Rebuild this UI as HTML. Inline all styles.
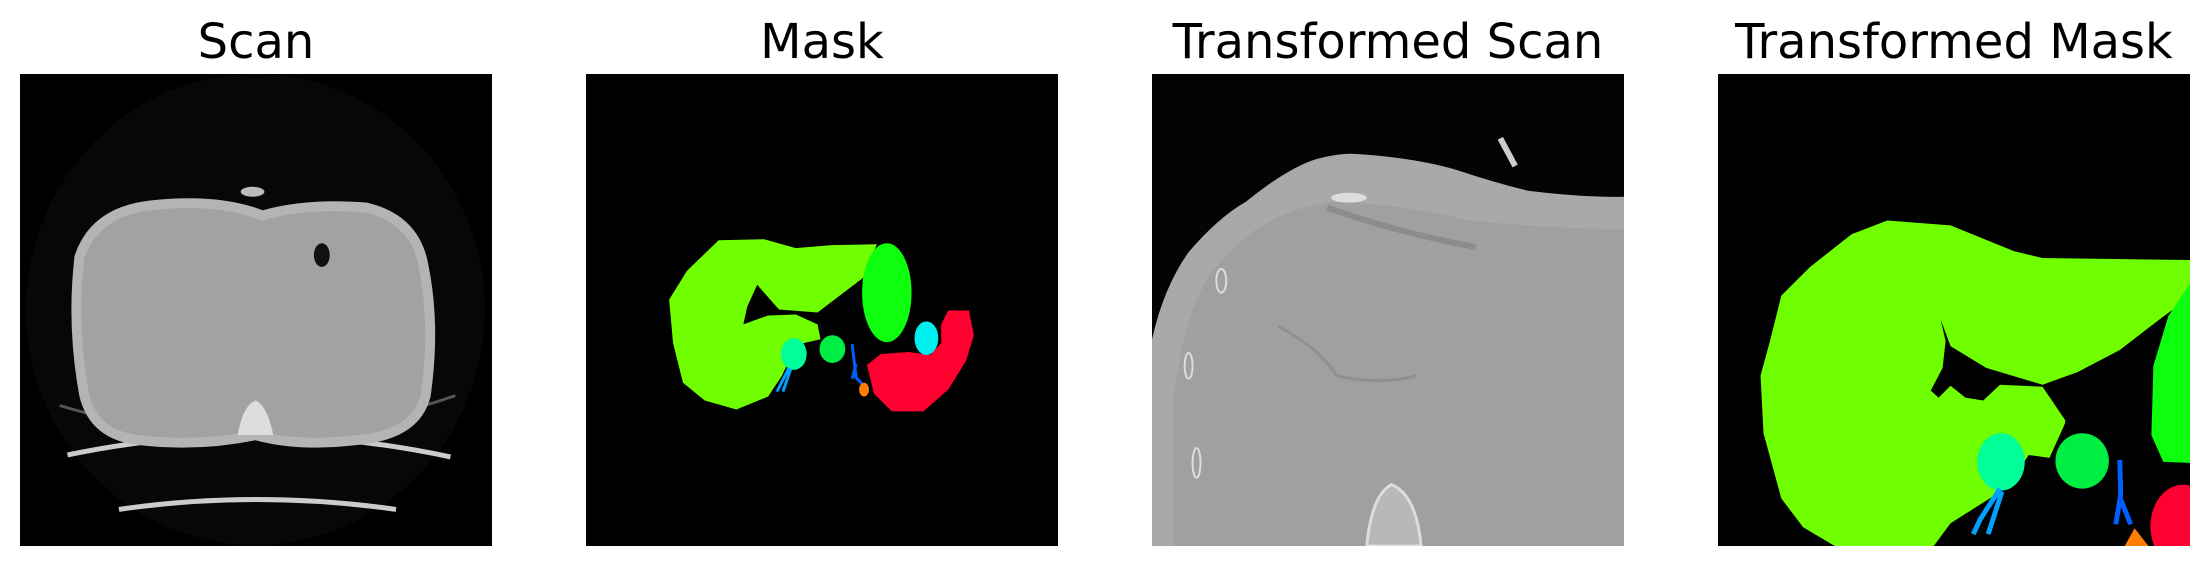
<!DOCTYPE html>
<html><head><meta charset="utf-8"><style>
html,body{margin:0;padding:0;background:#fff;width:2210px;height:566px;overflow:hidden}
svg{display:block}
text{font-family:"DejaVu Sans","Liberation Sans",sans-serif;font-size:48px;fill:#000}
</style></head><body>
<svg width="2210" height="566" viewBox="0 0 2210 566">
<defs>
<clipPath id="c1"><rect x="20" y="75" width="477" height="477"/></clipPath>
<clipPath id="c2"><rect x="593" y="75" width="477" height="477"/></clipPath>
<clipPath id="c3"><rect x="1153" y="75" width="477" height="477"/></clipPath>
<clipPath id="c4"><rect x="1725" y="75" width="477" height="477"/></clipPath>
</defs>
<!-- titles -->
<text x="256" y="58" text-anchor="middle">Scan</text>
<text x="822" y="58" text-anchor="middle">Mask</text>
<text x="1388" y="58" text-anchor="middle">Transformed Scan</text>
<text x="1954" y="58" text-anchor="middle">Transformed Mask</text>

<!-- Panel 1 scan -->
<g transform="translate(20 74) scale(0.98952) translate(-20 -75)">
<g clip-path="url(#c1)">
<rect x="20" y="75" width="477" height="477" fill="#000"/>
<ellipse cx="258" cy="313" rx="232" ry="238" fill="#070707"/>
<path d="M60 410 Q258 470 460 400" stroke="#555" stroke-width="3" fill="none"/>
<path d="M68 460 Q258 420 455 462" stroke="#ccc" stroke-width="5" fill="none"/>
<path d="M120 515 Q258 495 400 515" stroke="#ccc" stroke-width="5" fill="none"/>
<path d="M80 260 Q95 215 150 208 Q220 200 265 218 Q310 205 370 210 Q420 222 428 270 Q440 330 430 400 Q420 440 360 445 Q300 452 258 440 Q200 452 140 445 Q95 440 85 400 Q72 330 80 260 Z" fill="#a2a2a2" stroke="#b4b4b4" stroke-width="10"/>
<ellipse cx="325" cy="258" rx="8" ry="12" fill="#111"/>
<path d="M240 440 Q245 410 258 405 Q270 410 276 440 Z" fill="#ddd"/>
<ellipse cx="255" cy="194" rx="12" ry="5" fill="#bbb"/>
</g>
</g>

<!-- Panel 2 mask -->
<g transform="translate(586 74) scale(0.98952) translate(-593 -75)">
<g clip-path="url(#c2)">
<rect x="593" y="75" width="477" height="477" fill="#000"/>
<polygon fill="#70ff00" points="727,243 773,242 805,251 841,248 887,247 873,281 827,316 788,313 766,288 756,310 752,328 777,319 805,318 827,328 830,343 813,347 798,365 791,380 777,401 745,414 713,405 691,387 681,347 677,303 695,274"/>
<ellipse cx="897" cy="296" rx="25" ry="50" fill="#0dff0d"/>
<polygon fill="#ff0030" points="959,314 980,314 985,339 977,365 959,394 934,416 902,416 884,398 877,369 891,358 919,356 941,359 952,347 952,328"/>
<ellipse cx="937" cy="342" rx="12" ry="17" fill="#00f0f0"/>
<ellipse cx="803" cy="358" rx="13" ry="16" fill="#00ff99"/>
<ellipse cx="842" cy="353" rx="13" ry="14" fill="#00ee44"/>
<path d="M798 372 L786 396 M800 373 L792 396" stroke="#00a0ff" stroke-width="3" fill="none"/>
<path d="M862 348 L866 382 L872 388 M866 368 L862 383" stroke="#0060ff" stroke-width="3" fill="none"/>
<ellipse cx="874" cy="394" rx="5" ry="7" fill="#ff8000"/>
</g>
</g>

<!-- Panel 3 transformed scan -->
<g transform="translate(1152 74) scale(0.98952) translate(-1153 -75)">
<g clip-path="url(#c3)">
<rect x="1153" y="75" width="477" height="477" fill="#040404"/>
<path d="M1153 343 Q1165 290 1190 255 Q1220 220 1248 204 Q1290 170 1319 161 Q1345 154 1362 156 Q1420 160 1461 172 Q1500 185 1533 193 Q1590 200 1630 199 L1630 552 L1153 552 Z" fill="#a9a9a9"/>
<path d="M1175 400 Q1185 320 1210 280 Q1240 240 1275 222 Q1320 200 1360 205 Q1420 210 1470 222 Q1530 230 1630 232 L1630 552 L1175 552 Z" fill="#a0a0a0"/>
<path d="M1330 210 Q1400 235 1480 250" stroke="#8c8c8c" stroke-width="6" fill="none"/>
<ellipse cx="1352" cy="200" rx="18" ry="5" fill="#ddd"/>
<path d="M1370 552 Q1375 500 1395 490 Q1420 500 1425 552 Z" fill="#b8b8b8" stroke="#ddd" stroke-width="3"/>
<path d="M1280 330 Q1320 350 1340 380 Q1380 390 1420 380" stroke="#909090" stroke-width="3" fill="none"/>
<ellipse cx="1223" cy="284" rx="5" ry="12" fill="none" stroke="#ddd" stroke-width="2"/>
<ellipse cx="1190" cy="370" rx="4" ry="13" fill="none" stroke="#ddd" stroke-width="2"/>
<ellipse cx="1198" cy="468" rx="4" ry="15" fill="none" stroke="#ddd" stroke-width="2"/>
<path d="M1505 140 L1520 168" stroke="#ccc" stroke-width="6"/>
</g>
</g>

<!-- Panel 4 transformed mask -->
<g transform="translate(1718 74) scale(0.98952) translate(-1725 -75)">
<g clip-path="url(#c4)">
<rect x="1725" y="75" width="477" height="477" fill="#000"/>
<polygon fill="#70ff00" points="1896,223 1960,228 2024,254 2053,261 2203,263 2203,300 2174,321 2131,354 2089,376 2078,423 2060,463 2039,460 2017,493 1960,529 1943,552 1843,552 1811,533 1789,504 1771,438 1768,380 1778,343 1789,299 1818,270 1860,237"/>
<polygon fill="#000" points="1950,323 1960,350 1996,372 2053,389 2089,376 2131,354 2174,321 2203,300 2203,552 2062,552 2076,425 2053,391 2010,389 1993,405 1975,402 1960,390 1948,402 1940,395 1952,372 1955,345"/>
<polygon fill="#0dff0d" points="2203,285 2180,320 2165,370 2163,440 2175,467 2203,468"/>
<ellipse cx="2011" cy="467" rx="24" ry="29" fill="#00ff99"/>
<ellipse cx="2093" cy="466" rx="27" ry="28" fill="#00ee44"/>
<ellipse cx="2195" cy="532" rx="33" ry="42" fill="#ff0030"/>
<path d="M2131 465 L2132 500 L2127 530 M2132 505 L2142 530" stroke="#0060ff" stroke-width="5" fill="none"/>
<path d="M2010 494 L1990 525 L1983 540 M2012 497 L1998 540" stroke="#00a0ff" stroke-width="5" fill="none"/>
<polygon fill="#ff8000" points="2146,534 2136,552 2160,552"/>
</g>
</g>
</svg>
</body></html>
